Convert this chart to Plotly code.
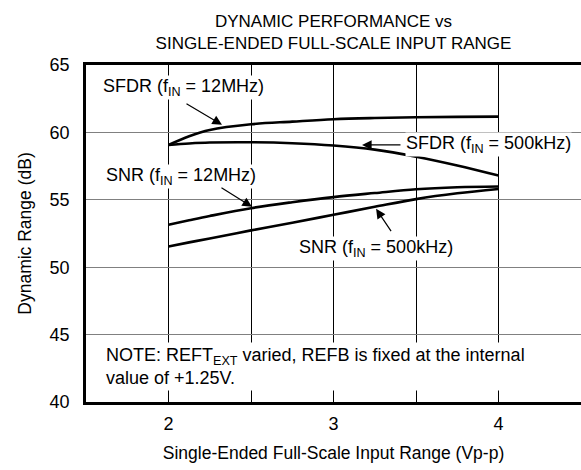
import plotly.graph_objects as go

x_range_vpp = [2, 2.125, 2.25, 2.5, 2.75, 3, 3.25, 3.5, 3.75, 4]
sfdr_12mhz = [59.07, 59.72, 60.18, 60.6, 60.8, 60.98, 61.07, 61.12, 61.15, 61.17]
sfdr_500khz = [59.07, 59.18, 59.25, 59.27, 59.2, 59.03, 58.72, 58.2, 57.55, 56.8]
snr_12mhz = [53.15, 53.48, 53.8, 54.38, 54.82, 55.2, 55.5, 55.78, 55.93, 55.99]
snr_500khz = [51.54, 51.84, 52.13, 52.73, 53.3, 53.89, 54.48, 55.05, 55.48, 55.8]

x_tick_vals = [2, 2.5, 3, 3.5, 4]
x_tick_text = ["2", "", "3", "", "4"]
y_tick_vals = [40, 45, 50, 55, 60, 65]

FONT = "Liberation Sans, Arial, sans-serif"

fig = go.Figure()
for ys in [sfdr_12mhz, sfdr_500khz, snr_12mhz, snr_500khz]:
    fig.add_trace(go.Scatter(x=x_range_vpp, y=ys, mode="lines",
                             line=dict(color="black", width=2.6, shape="spline", smoothing=1.0),
                             showlegend=False, hoverinfo="skip"))

labels = [
    ("SFDR (f<sub>IN</sub> = 12MHz)", 1.597, 63.3),
    ("SFDR (f<sub>IN</sub> = 500kHz)", 3.433, 59.07),
    ("SNR (f<sub>IN</sub> = 12MHz)", 1.615, 56.7),
    ("SNR (f<sub>IN</sub> = 500kHz)", 2.785, 51.37),
]
annotations = []
for t, xx, yy in labels:
    annotations.append(dict(text=t, x=xx, y=yy, xref="x", yref="y", xanchor="left", yanchor="middle",
                            showarrow=False, bgcolor="white", borderpad=0,
                            font=dict(family=FONT, size=18, color="black")))

arrows = [
    (2.324, 60.56, 2.10, 62.19),
    (3.173, 59.07, 3.415, 59.07),
    (2.506, 54.48, 2.312, 55.96),
    (3.258, 54.33, 3.355, 52.56),
]
for hx, hy, tx, ty in arrows:
    annotations.append(dict(text="", x=hx, y=hy, ax=tx, ay=ty, xref="x", yref="y",
                            axref="x", ayref="y", showarrow=True, arrowhead=2,
                            arrowsize=1.6, arrowwidth=1.2, arrowcolor="black", standoff=0))

annotations.append(dict(text="NOTE: REFT<sub>EXT</sub> varied, REFB is fixed at the internal<br>value of +1.25V.",
                        x=1.603, y=42.6, xref="x", yref="y", xanchor="left", yanchor="middle",
                        align="left", showarrow=False, bgcolor="white", borderpad=2,
                        font=dict(family=FONT, size=18, color="black")))

fig.update_layout(
    width=581, height=470,
    margin=dict(l=86, r=0, t=65, b=68, autoexpand=False),
    paper_bgcolor="white", plot_bgcolor="white",
    font=dict(family=FONT, size=18, color="black"),
    title=dict(text="DYNAMIC PERFORMANCE vs<br>SINGLE-ENDED FULL-SCALE INPUT RANGE",
               x=0.5, xref="paper", xanchor="center",
               y=1 - 27 / 470, yref="container", yanchor="top",
               font=dict(family=FONT, size=17, color="black"), automargin=False),
    annotations=annotations,
    xaxis=dict(range=[1.5, 4.5], tickvals=x_tick_vals, ticktext=x_tick_text,
               showgrid=True, gridcolor="black", gridwidth=1,
               showline=True, linecolor="black", linewidth=2.6, mirror=True,
               ticks="", ticklabelstandoff=4, zeroline=False, automargin=False,
               title=dict(text="Single-Ended Full-Scale Input Range (Vp-p)", standoff=14,
                          font=dict(family=FONT, size=17.5))),
    yaxis=dict(range=[40, 65], tickvals=y_tick_vals,
               showgrid=True, gridcolor="#808080", gridwidth=1,
               showline=True, linecolor="black", linewidth=2.6,
               ticks="", ticklabelstandoff=10, zeroline=False, automargin=False,
               title=dict(text="Dynamic Range (dB)", standoff=14,
                          font=dict(family=FONT, size=17.5))),
)

fig.write_html("out.html", config={"displayModeBar": False},
               post_script="document.body.style.margin='0';document.body.style.overflow='hidden';")
